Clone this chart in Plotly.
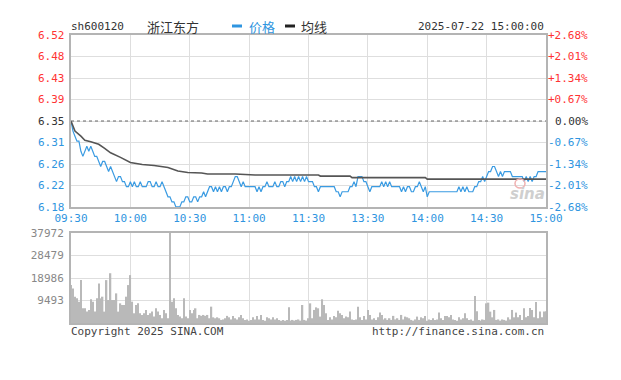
import plotly.graph_objects as go

# ---------------- data ----------------
symbol = "sh600120"
name = "浙江东方"
timestamp = "2025-07-22 15:00:00"
prev_close = 6.35

time_labels = ["09:30", "10:00", "10:30", "11:00", "11:30", "13:30", "14:00", "14:30", "15:00"]
time_label_idx = [0, 30, 60, 90, 120, 150, 180, 210, 240]

price_ticks = [6.52, 6.48, 6.43, 6.39, 6.35, 6.31, 6.26, 6.22, 6.18]
pct_ticks = [2.68, 2.01, 1.34, 0.67, 0.00, -0.67, -1.34, -2.01, -2.68]
pct_labels = ["+2.68%", "+2.01%", "+1.34%", "+0.67%", "0.00%", "-0.67%", "-1.34%", "-2.01%", "-2.68%"]

vol_ticks = [9493, 18986, 28479, 37972]
vol_labels = ["9493", "18986", "28479", "37972"]

price_am = [
    6.35, 6.33, 6.32, 6.31, 6.31, 6.29, 6.28, 6.29, 6.30, 6.29,
    6.30, 6.29, 6.28, 6.28, 6.27, 6.26, 6.27, 6.27, 6.26, 6.25,
    6.26, 6.25, 6.24, 6.23, 6.24, 6.24, 6.23, 6.23, 6.22, 6.22,
    6.23, 6.22, 6.23, 6.22, 6.22, 6.23, 6.22, 6.22, 6.22, 6.23,
    6.23, 6.22, 6.22, 6.23, 6.22, 6.22, 6.23, 6.22, 6.21, 6.20,
    6.20, 6.19, 6.19, 6.18, 6.18, 6.18, 6.19, 6.19, 6.20, 6.20,
    6.19, 6.19, 6.20, 6.20, 6.19, 6.20, 6.20, 6.21, 6.20, 6.21,
    6.22, 6.22, 6.21, 6.22, 6.21, 6.22, 6.21, 6.22, 6.22, 6.21,
    6.22, 6.22, 6.23, 6.24, 6.24, 6.23, 6.22, 6.23, 6.22, 6.22,
    6.22, 6.22, 6.22, 6.22, 6.21, 6.22, 6.21, 6.22, 6.22, 6.23,
    6.22, 6.22, 6.22, 6.23, 6.22, 6.22, 6.23, 6.23, 6.22, 6.23,
    6.23, 6.24, 6.23, 6.24, 6.23, 6.24, 6.23, 6.24, 6.23, 6.24,
    6.23,
]
price_pm = [
    6.23, 6.23, 6.22, 6.22, 6.21, 6.22, 6.22, 6.22, 6.22, 6.22,
    6.22, 6.22, 6.22, 6.21, 6.21, 6.20, 6.21, 6.21, 6.21, 6.21,
    6.22, 6.22, 6.23, 6.22, 6.24, 6.24, 6.24, 6.23, 6.23, 6.22,
    6.21, 6.22, 6.22, 6.22, 6.22, 6.22, 6.23, 6.22, 6.23, 6.22,
    6.23, 6.22, 6.22, 6.22, 6.22, 6.22, 6.21, 6.22, 6.21, 6.22,
    6.22, 6.21, 6.21, 6.22, 6.22, 6.23, 6.22, 6.21, 6.22, 6.20,
    6.21, 6.21, 6.21, 6.21, 6.21, 6.21, 6.21, 6.21, 6.21, 6.21,
    6.21, 6.21, 6.21, 6.21, 6.21, 6.22, 6.21, 6.22, 6.21, 6.22,
    6.21, 6.21, 6.21, 6.22, 6.22, 6.23, 6.23, 6.24, 6.23, 6.24,
    6.25, 6.25, 6.26, 6.26, 6.25, 6.24, 6.25, 6.24, 6.25, 6.25,
    6.25, 6.25, 6.24, 6.24, 6.24, 6.24, 6.24, 6.24, 6.23, 6.24,
    6.23, 6.24, 6.23, 6.24, 6.24, 6.25, 6.25, 6.25, 6.25, 6.25,
]

avg_idx = [0, 2, 5, 7, 10, 14, 17, 20, 25, 30, 36, 42, 49, 54, 59, 66, 69, 83, 93,
           120, 125, 126, 141, 142, 179, 180, 240]
avg_val = [6.35, 6.33, 6.32, 6.312, 6.309, 6.304, 6.296, 6.287, 6.278, 6.268, 6.264,
           6.262, 6.258, 6.251, 6.248, 6.247, 6.245, 6.245, 6.243,
           6.243, 6.243, 6.241, 6.241, 6.238, 6.238, 6.235, 6.235]

vol_am = [
    16000, 14600, 11100, 10400, 9000, 18100, 6200, 6200, 4800, 5500,
    10000, 9000, 4800, 10400, 16700, 10400, 11100, 4800, 18100, 9700,
    21000, 9700, 9700, 12500, 4800, 8300, 7600, 7600, 11100, 16000,
    20200, 9000, 4100, 7600, 8300, 4100, 3400, 4100, 5500, 3400,
    4100, 4800, 2700, 6200, 4800, 3400, 2000, 5500, 4100, 2000,
    37972, 9000, 10400, 6200, 3400, 2700, 2000, 10400, 2700, 2000,
    5500, 4100, 5500, 6200, 2000, 3400, 3000, 3400, 3000, 3400,
    2000, 6900, 2400, 2000, 2400, 2000, 1300, 1500, 2000, 3000,
    2400, 1500, 3000, 2000, 1500, 2400, 3400, 2000, 1300, 1500,
    1000, 1300, 2400, 1500, 3000, 1500, 3400, 1300, 1000, 2400,
    2000, 1500, 2400, 1500, 2000, 1300, 1000, 1300, 1000, 1300,
    6600, 1000, 1300, 1000, 1300, 1500, 1000, 7600, 1300, 1000,
    2000,
]
vol_pm = [
    8300, 2000, 5500, 6600, 6200, 2700, 10000, 7600, 4100, 1300,
    2400, 1500, 3000, 2400, 5200, 4100, 3400, 2000, 2700, 2400,
    4800, 1500, 1300, 1500, 6900, 2400, 1300, 3000, 1500, 5500,
    3400, 1500, 2000, 1300, 2400, 4400, 3400, 1500, 2000, 1300,
    2000, 1300, 3000, 1500, 2000, 1300, 3400, 1500, 2700, 2400,
    2000, 1300, 1000, 1500, 2700, 1300, 2400, 2000, 3000, 1000,
    1500, 1300, 2000, 1300, 1500, 4400, 2000, 1300, 3000, 3000,
    2400, 3400, 1500, 1300, 1000, 2400, 1500, 2000, 4100, 2000,
    1300, 1500, 1000, 11400, 5000, 1300, 1000, 1500, 1300, 8300,
    8600, 4800, 2400, 5500, 1300, 1500, 1000, 1500, 1300, 1000,
    2400, 1500, 5500, 2400, 4400, 2400, 3400, 1300, 6200, 2400,
    3000, 6300, 5500, 2400, 8900, 2000, 4800, 2400, 4800, 5000,
]

# ---------------- figure ----------------
prices = price_am + price_pm
volumes = vol_am + vol_pm
idx = list(range(len(prices)))

W, H = 621, 380
L, R, T, B = 71, 75, 35, 57
PW = W - L - R
PH = H - T - B

def px(x):
    return (x - L) / PW

def py(y):
    return (H - B - y) / PH

RED = "#ff3333"
BLUE = "#2f95e0"
DARK = "#333333"
GRID = "#dedede"
BORDER = "#b4b4b4"
MONO = "DejaVu Sans Mono"
CJK = "Noto Sans CJK SC"

fig = go.Figure()
fig.add_trace(go.Scatter(x=idx, y=prices, mode="lines", line=dict(color="#3a9be2", width=1.2),
                         xaxis="x", yaxis="y", hoverinfo="skip"))
fig.add_trace(go.Scatter(x=avg_idx, y=avg_val, mode="lines", line=dict(color="#555555", width=1.6),
                         xaxis="x", yaxis="y", hoverinfo="skip"))
fig.add_trace(go.Bar(x=idx, y=volumes, marker=dict(color="#b9b9b9", line=dict(width=0)),
                     xaxis="x2", yaxis="y2", hoverinfo="skip"))

pmin = prev_close * (1 + pct_ticks[-1] / 100)
pmax = prev_close * (1 + pct_ticks[0] / 100)
tick_pos = [prev_close * (1 + p / 100) for p in pct_ticks]

ax_common = dict(showline=True, mirror=True, linecolor=BORDER, linewidth=2,
                 showgrid=True, gridcolor=GRID, gridwidth=1, zeroline=False, ticks="")

fig.update_layout(
    width=W, height=H, autosize=False,
    margin=dict(l=L, r=R, t=T, b=B),
    paper_bgcolor="white", plot_bgcolor="white",
    showlegend=False, bargap=0.3,
    xaxis=dict(domain=[0, 1], range=[0, 240], anchor="y",
               tickvals=time_label_idx, ticktext=time_labels,
               tickfont=dict(family=MONO, size=11, color=BLUE), **ax_common),
    yaxis=dict(domain=[py(207), 1], range=[pmin, pmax], anchor="x",
               tickvals=tick_pos, showticklabels=False, **ax_common),
    xaxis2=dict(domain=[0, 1], range=[0, 240], anchor="y2", matches="x",
                tickvals=time_label_idx, showticklabels=False, **ax_common),
    yaxis2=dict(domain=[0, py(233)], range=[0, vol_ticks[-1]], anchor="x2",
                tickvals=vol_ticks, ticktext=vol_labels, ticklabelstandoff=3,
                tickfont=dict(family=MONO, size=11, color="#888888"), **ax_common),
)

# dotted previous close line
fig.add_shape(type="line", xref="x", yref="y", x0=0, x1=240, y0=prev_close, y1=prev_close,
              line=dict(color="#666666", width=1, dash="dot"))

def lvl_color(v):
    if v > 0:
        return RED
    if v < 0:
        return BLUE
    return DARK

ann = []
for pos, p, lab, plab in zip(tick_pos, pct_ticks, price_ticks, pct_labels):
    c = lvl_color(p)
    ann.append(dict(x=0, xref="paper", y=pos, yref="y", text=f"{lab:.2f}", showarrow=False,
                    xanchor="right", yanchor="middle", xshift=-4,
                    font=dict(family=MONO, size=11, color=c)))
    ann.append(dict(x=px(590), xref="paper", y=pos, yref="y", text=plab, showarrow=False,
                    xanchor="right", yanchor="middle",
                    font=dict(family=MONO, size=11, color=c)))

ty = py(26)
ann += [
    dict(x=px(69), y=ty, xref="paper", yref="paper", text=symbol, showarrow=False,
         xanchor="left", yanchor="middle", font=dict(family=MONO, size=11, color=DARK)),
    dict(x=px(145), y=ty, xref="paper", yref="paper", text=name, showarrow=False,
         xanchor="left", yanchor="middle", font=dict(family=CJK, size=13, color=DARK)),
    dict(x=px(247), y=ty, xref="paper", yref="paper", text="价格", showarrow=False,
         xanchor="left", yanchor="middle", font=dict(family=CJK, size=13, color=BLUE)),
    dict(x=px(299), y=ty, xref="paper", yref="paper", text="均线", showarrow=False,
         xanchor="left", yanchor="middle", font=dict(family=CJK, size=13, color=DARK)),
    dict(x=px(546), y=ty, xref="paper", yref="paper", text=timestamp, showarrow=False,
         xanchor="right", yanchor="middle", font=dict(family=MONO, size=11, color=DARK)),
    dict(x=px(69), y=py(331), xref="paper", yref="paper", text="Copyright 2025 SINA.COM",
         showarrow=False, xanchor="left", yanchor="middle",
         font=dict(family=MONO, size=11, color="#444444")),
    dict(x=px(546), y=py(331), xref="paper", yref="paper", text="http://finance.sina.com.cn",
         showarrow=False, xanchor="right", yanchor="middle",
         font=dict(family=MONO, size=11, color="#444444")),
    dict(x=px(527), y=py(194), xref="paper", yref="paper", text="<b><i>sina</i></b>",
         showarrow=False, xanchor="center", yanchor="middle",
         font=dict(family="DejaVu Sans", size=15, color="#cfcfcf")),
]
fig.update_layout(annotations=ann)

# legend dashes and watermark eye
fig.add_shape(type="line", xref="paper", yref="paper", x0=px(232), x1=px(242), y0=ty, y1=ty,
              line=dict(color=BLUE, width=3))
fig.add_shape(type="line", xref="paper", yref="paper", x0=px(285), x1=px(295), y0=ty, y1=ty,
              line=dict(color="#222222", width=3))
fig.add_shape(type="circle", xref="paper", yref="paper", x0=px(515), x1=px(525),
              y0=py(188), y1=py(179), line=dict(color="#f0b0b0", width=1.5))

fig.write_html("out.html", config={"displayModeBar": False},
               post_script="document.body.style.margin='0';")
